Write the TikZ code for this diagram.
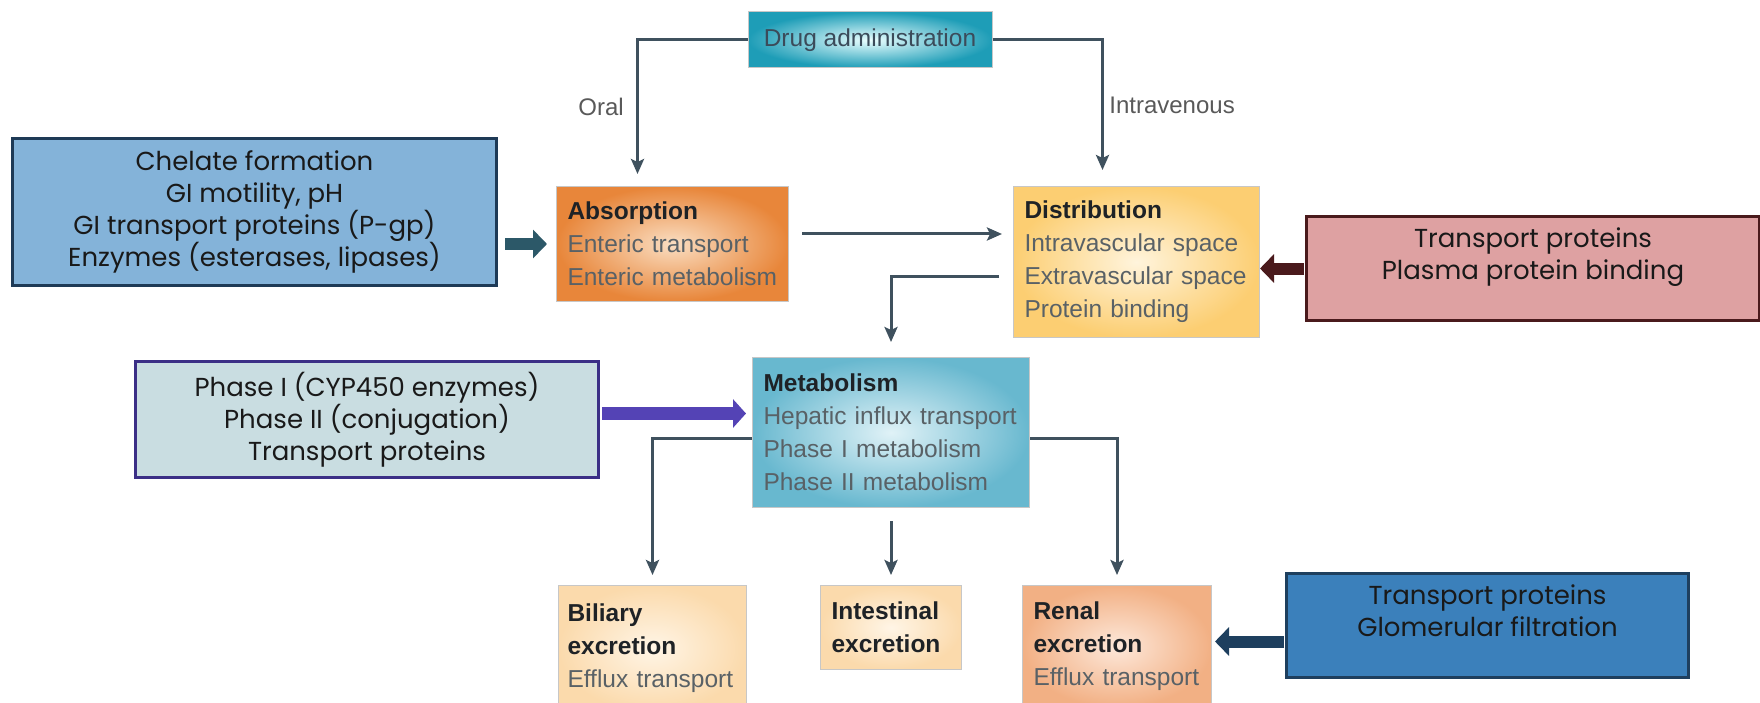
\documentclass[tikz,border=0pt]{standalone}
\usepackage{fontspec}
\setmainfont{Poppins}
\newfontfamily\helv{Liberation Sans}
\usetikzlibrary{arrows.meta}

\definecolor{linkgray}{HTML}{3F515E}
\definecolor{stagetext}{HTML}{596166}
\definecolor{stagehead}{HTML}{1E2226}
\definecolor{chelfill}{HTML}{84B3D9}
\definecolor{chelline}{HTML}{1E3A56}
\definecolor{chelarrow}{HTML}{2C5868}
\definecolor{plasfill}{HTML}{DEA1A2}
\definecolor{plasline}{HTML}{4A1A1C}
\definecolor{phasfill}{HTML}{C9DDE1}
\definecolor{phasline}{HTML}{3B2F86}
\definecolor{phasarrow}{HTML}{5443B5}
\definecolor{renfill}{HTML}{3B80BB}
\definecolor{renline}{HTML}{1E3F5E}

\begin{document}
\begin{tikzpicture}[x=1pt,y=-1pt,
  stage/.style={rectangle,draw=black!22,line width=1pt,anchor=north west,align=left,
    inner xsep=11pt,inner ysep=4pt,text=stagetext,font=\helv\fontsize{24.5}{33}\selectfont},
  factor/.style={rectangle,line width=3pt,anchor=north west,align=center,
    text=black!90,font=\fontsize{26}{32}\selectfont},
  link/.style={linkgray,line width=3pt,-{Stealth[length=15pt,width=13pt,inset=3pt]}},
  note/.style={text=black!65,font=\helv\fontsize{24}{28}\selectfont},
  push/.style={line width=12pt,-{Triangle[length=14pt,width=28pt]}}]

\fill[white] (0,0) rectangle (1760,703);
\useasboundingbox (0,0) rectangle (1760,703);

% pathway boxes
\node[rectangle,draw=black!22,line width=1pt,minimum width=244pt,minimum height=56pt,
  inner color=cyan!8,outer color={rgb,255:red,30;green,157;blue,183},
  text={rgb,255:red,59;green,75;blue,90},font=\helv\fontsize{24.5}{28}\selectfont]
  (drug) at (870,40) {Drug administration};
\node[stage,text width=210pt,minimum height=115pt,inner color={rgb,255:red,250;green,222;blue,194},
  outer color={rgb,255:red,232;green,134;blue,58}] (absorb) at (556,186)
  {{\color{stagehead}\bfseries Absorption}\\Enteric transport\\Enteric metabolism};
\node[stage,text width=224pt,minimum height=151pt,inner color={rgb,255:red,255;green,244;blue,220},
  outer color={rgb,255:red,252;green,206;blue,114}] (distrib) at (1013,186)
  {{\color{stagehead}\bfseries Distribution}\\Intravascular space\\Extravascular space\\Protein binding};
\node[stage,text width=255pt,minimum height=150pt,inner color={rgb,255:red,224;green,242;blue,247},
  outer color={rgb,255:red,104;green,184;blue,207}] (metab) at (752,357)
  {{\color{stagehead}\bfseries Metabolism}\\Hepatic influx transport\\Phase I metabolism\\Phase II metabolism};
\node[stage,inner xsep=9pt,text width=170pt,minimum height=126pt,inner color={rgb,255:red,255;green,245;blue,230},
  outer color={rgb,255:red,251;green,218;blue,172}] (bili) at (558,585)
  {{\color{stagehead}\bfseries Biliary}\\{\color{stagehead}\bfseries excretion}\\Efflux transport};
\node[stage,text width=119pt,minimum height=84pt,inner color={rgb,255:red,255;green,245;blue,230},
  outer color={rgb,255:red,251;green,218;blue,172}] (intest) at (820,585)
  {{\color{stagehead}\bfseries Intestinal}\\{\color{stagehead}\bfseries excretion}};
\node[stage,text width=167pt,minimum height=122pt,inner color={rgb,255:red,253;green,232;blue,218},
  outer color={rgb,255:red,242;green,176;blue,132}] (renal) at (1022,585)
  {{\color{stagehead}\bfseries Renal}\\{\color{stagehead}\bfseries excretion}\\Efflux transport};

% factor boxes
\node[factor,draw=chelline,fill=chelfill,minimum width=484pt,minimum height=147pt] (chel) at (11,137)
  {Chelate formation\\GI motility, pH\\GI transport proteins (P-gp)\\Enzymes (esterases, lipases)};
\node[factor,draw=plasline,fill=plasfill,minimum width=453pt,minimum height=104pt,text depth=30pt] (plasma) at (1305,215)
  {Transport proteins\\Plasma protein binding};
\node[factor,draw=phasline,fill=phasfill,minimum width=463pt,minimum height=116pt] (phase) at (134,360)
  {Phase I (CYP450 enzymes)\\Phase II (conjugation)\\Transport proteins};
\node[factor,draw=renline,fill=renfill,minimum width=402pt,minimum height=104pt,text depth=30pt] (glom) at (1285,572)
  {Transport proteins\\Glomerular filtration};

% connectors
\draw[link] (drug.west) -| ([xshift=-35pt,yshift=12pt]absorb.north)
  node[note,pos=0.75,left=9pt] (oral) {Oral};
\draw[link] (drug.east) -| ([xshift=-34pt,yshift=16pt]distrib.north)
  node[note,pos=0.75,right=2pt] (iv) {Intravenous};
\draw[link] ([xshift=13pt,yshift=10pt]absorb.east) -- ([xshift=-11pt,yshift=10pt]absorb.east -| distrib.west);
\draw[link] ([xshift=-14pt,yshift=-14pt]distrib.west) -| ([yshift=15pt]metab.north);
\draw[link] ([yshift=-6pt]metab.west) -| ([yshift=10pt]bili.north);
\draw[link] ([yshift=-6pt]metab.east) -| ([yshift=10pt]renal.north);
\draw[link] ([yshift=-13pt]metab.south) -- ([yshift=10pt]intest.north);

% block arrows
\draw[push,chelarrow] ([xshift=7pt]chel.east |- absorb.west) -- ([xshift=-9pt]absorb.west);
\draw[push,plasline] ([xshift=-1pt]plasma.west) -- (plasma.west -| distrib.east);
\draw[push,phasarrow,line width=13pt,-{Triangle[length=13pt,width=28pt]}]
  ([xshift=2pt,yshift=6pt]phase.east) -- ([xshift=-6pt,yshift=6pt]phase.east -| metab.west);
\draw[push,renline] ([xshift=-1pt,yshift=-16pt]glom.west) -- ([xshift=3pt,yshift=-16pt]glom.west -| renal.east);
\end{tikzpicture}
\end{document}
